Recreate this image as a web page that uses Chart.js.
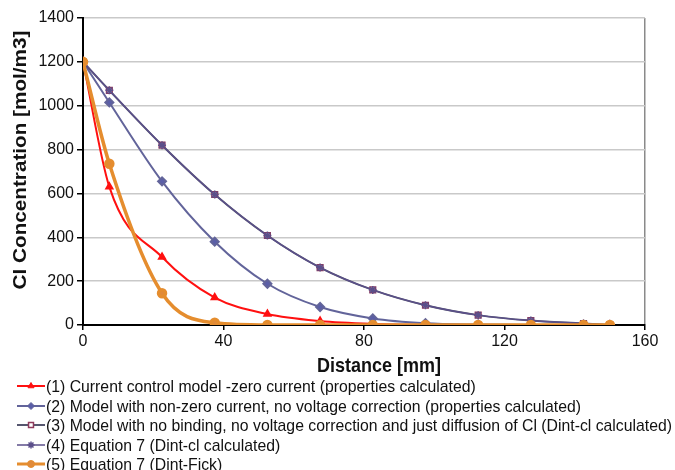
<!DOCTYPE html>
<html>
<head>
<meta charset="utf-8">
<script src="https://cdn.jsdelivr.net/npm/chart.js@4"></script>
<style>
  html, body { margin: 0; padding: 0; background: #fff; }
  #wrap { width: 675px; height: 470px; }
</style>
</head>
<body>
<div id="wrap"><canvas id="chart" width="675" height="470"></canvas></div>
<script>
// Distance [mm]
const distance = [0, 7.5, 22.5, 37.5, 52.5, 67.5, 82.5, 97.5, 112.5, 127.5, 142.5, 150];

// Cl concentration [mol/m3]
const zeroCurrent   = [1200, 630, 310, 125, 50, 18, 5, 1, 0, 0, 0, 0];
const nonZero       = [1200, 1015, 655, 380, 188, 82, 30, 8, 2, 0, 0, 0];
const noBinding     = [1200, 1070, 820, 595, 408, 262, 160, 90, 45, 20, 7, 0];
const eq7DintCl     = [1200, 1070, 820, 595, 408, 262, 160, 90, 45, 20, 7, 0];
const eq7DintFick   = [1200, 735, 145, 10, 0, 0, 0, 0, 0, 0, 0, 0];

const seriesNames = [
    "(1) Current control model -zero current (properties calculated)",
    "(2) Model with non-zero current, no voltage correction (properties calculated)",
    "(3) Model with no binding, no voltage correction and just diffusion of Cl (Dint-cl calculated)",
    "(4) Equation 7 (Dint-cl calculated)",
    "(5) Equation 7 (Dint-Fick)"
];

const yTicks = [0, 200, 400, 600, 800, 1000, 1200, 1400];
const xTicks = [0, 40, 80, 120, 160];
const xTitle = 'Distance [mm]';
const yTitle = 'Cl Concentration [mol/m3]';

function pts(values) {
    return values.map((v, i) => ({ x: distance[i], y: v }));
}

const FONT = "'Liberation Sans', Arial, sans-serif";

const datasets = [
    {
        label: seriesNames[0], data: pts(zeroCurrent),
        borderColor: '#ff1010', backgroundColor: '#ff1010', borderWidth: 2,
        pointStyle: 'triangle', pointRadius: 3.5, order: 4
    },
    {
        label: seriesNames[1], data: pts(nonZero),
        borderColor: '#62649a', backgroundColor: '#5a5ea8', borderWidth: 2,
        pointStyle: 'rectRot', pointRadius: 4, order: 3
    },
    {
        label: seriesNames[2], data: pts(noBinding),
        borderColor: '#55566e', backgroundColor: '#ffffff', pointBorderColor: '#8e3a5c', borderWidth: 2,
        pointStyle: 'rect', pointRadius: 4, pointBorderWidth: 1.5, order: 2
    },
    {
        label: seriesNames[3], data: pts(eq7DintCl),
        borderColor: '#5b4f8a', backgroundColor: '#6a4f9c', borderWidth: 1.5,
        pointStyle: 'star', pointRadius: 4, pointBorderWidth: 1.5, order: 1
    },
    {
        label: seriesNames[4], data: pts(eq7DintFick),
        borderColor: '#e58d2e', backgroundColor: '#e08a3a', borderWidth: 3.5,
        pointStyle: 'circle', pointRadius: 3.5, order: 0
    }
];

// axis titles sit off-centre in the original, so they are placed by hand
// (the source picture is a little stretched vertically, hence the 1.15)
const axisTitles = {
    id: 'axisTitles',
    afterDraw(chart) {
        const ctx = chart.ctx;
        ctx.save();
        ctx.fillStyle = '#111';
        ctx.font = "bold 18px " + FONT;
        ctx.textAlign = 'center';
        ctx.textBaseline = 'middle';
        ctx.save();
        ctx.translate(379, 366);
        ctx.scale(1, 1.15);
        ctx.fillText(xTitle, 0, 0);
        ctx.restore();
        ctx.translate(21, 160);
        ctx.rotate(-Math.PI / 2);
        ctx.scale(1.15, 1);
        ctx.fillText(yTitle, 0, 0);
        ctx.restore();
    }
};

// legend drawn row by row under the axis title, like the original
const rowLegend = {
    id: 'rowLegend',
    afterDraw(chart) {
        const ctx = chart.ctx;
        const rows = [386, 406, 425, 445, 464];
        ctx.save();
        ctx.font = "17px 'Liberation Sans Narrow', 'Arial Narrow', " + FONT;
        // squeeze text to the narrow width of the original
        const longest = ctx.measureText(seriesNames[2]).width;
        const sx = 626 / longest;
        chart.data.datasets.forEach((ds, i) => {
            const y = rows[i];
            ctx.strokeStyle = ds.borderColor;
            ctx.lineWidth = Math.min(ds.borderWidth, 3);
            ctx.beginPath();
            ctx.moveTo(17, y);
            ctx.lineTo(45, y);
            ctx.stroke();
            ctx.fillStyle = ds.backgroundColor;
            ctx.strokeStyle = ds.pointBorderColor || ds.borderColor;
            ctx.lineWidth = ds.pointBorderWidth || 1;
            Chart.helpers.drawPoint(ctx, {
                pointStyle: ds.pointStyle, rotation: 0, borderWidth: ds.pointBorderWidth || 1,
                radius: 3.5
            }, 31, y);
            ctx.fillStyle = '#111';
            ctx.textBaseline = 'middle';
            ctx.save();
            ctx.translate(46, y);
            ctx.scale(sx, 1);
            ctx.fillText(ds.label, 0, 1);
            ctx.restore();
        });
        ctx.restore();
    }
};

new Chart(document.getElementById('chart'), {
    type: 'line',
    data: { datasets: datasets },
    plugins: [axisTitles, rowLegend],
    options: {
        responsive: false,
        animation: false,
        layout: { padding: { left: 6, right: 30, top: 18, bottom: 93 } },
        elements: { line: { cubicInterpolationMode: 'monotone' } },
        plugins: { legend: { display: false }, tooltip: { enabled: false } },
        scales: {
            x: {
                type: 'linear', min: 0, max: 160,
                afterBuildTicks(s) { s.ticks = xTicks.map(v => ({ value: v })); },
                afterFit(s) { s.height = 52; },
                border: { color: '#000', width: 2 },
                grid: {
                    color: c => c.tick && c.tick.value === 160 ? '#8a8a8a' : 'transparent',
                    lineWidth: 1.5, tickColor: '#000', tickLength: 5
                },
                ticks: {
                    color: '#111', font: { family: FONT, size: 16 }, padding: 2, maxRotation: 0,
                    callback: v => String(v)
                }
            },
            y: {
                min: 0, max: 1400,
                afterBuildTicks(s) { s.ticks = yTicks.map(v => ({ value: v })); },
                afterFit(s) { s.width = 77; },
                border: { color: '#000', width: 2 },
                grid: { color: '#c9c9c9', lineWidth: 1.5, tickColor: '#000', tickLength: 6 },
                ticks: {
                    color: '#111', font: { family: FONT, size: 16 }, padding: 3,
                    callback: v => String(v)
                }
            }
        }
    }
});
</script>
</body>
</html>
